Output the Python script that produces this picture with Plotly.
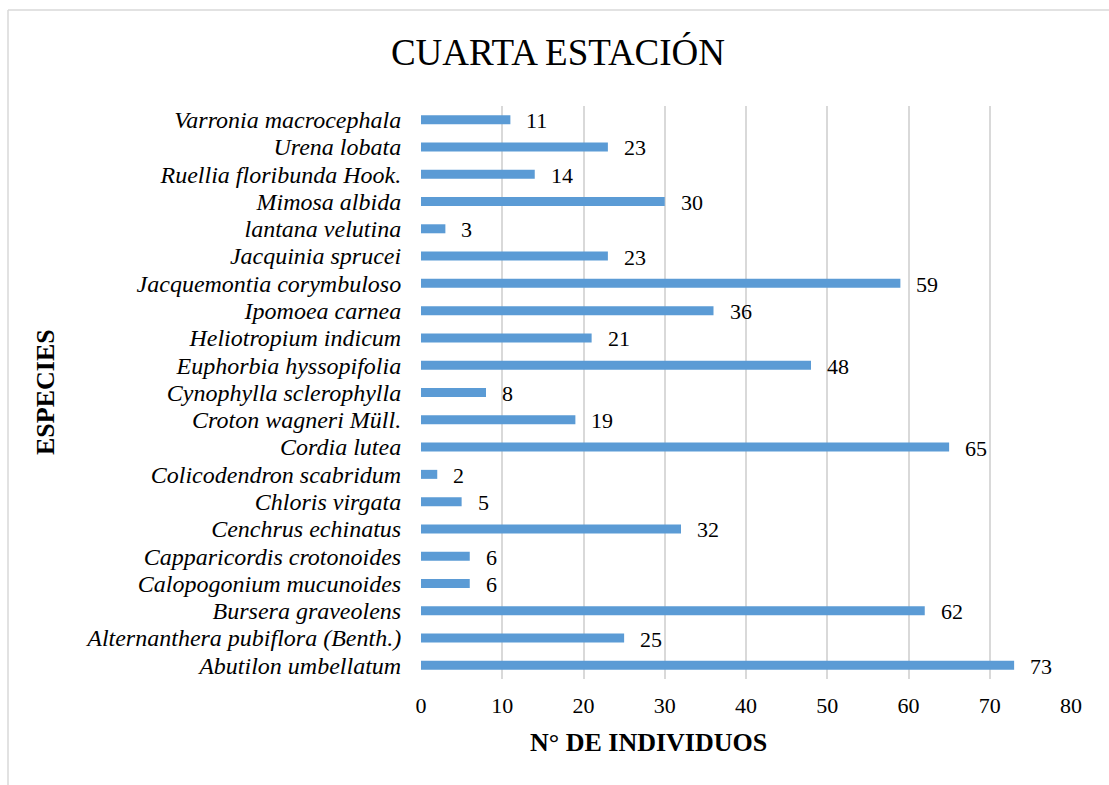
import plotly.graph_objects as go

species = [
    "Abutilon umbellatum",
    "Alternanthera pubiflora (Benth.)",
    "Bursera graveolens",
    "Calopogonium mucunoides",
    "Capparicordis crotonoides",
    "Cenchrus echinatus",
    "Chloris virgata",
    "Colicodendron scabridum",
    "Cordia lutea",
    "Croton wagneri Müll.",
    "Cynophylla sclerophylla",
    "Euphorbia hyssopifolia",
    "Heliotropium indicum",
    "Ipomoea carnea",
    "Jacquemontia corymbuloso",
    "Jacquinia sprucei",
    "lantana velutina",
    "Mimosa albida",
    "Ruellia floribunda Hook.",
    "Urena lobata",
    "Varronia macrocephala",
]
counts = [73, 25, 62, 6, 6, 32, 5, 2, 65, 19, 8, 48, 21, 36, 59, 23, 3, 30, 14, 23, 11]
x_ticks = [0, 10, 20, 30, 40, 50, 60, 70, 80]

W, H = 1109, 785
L, R, T, B = 421, 1071, 106, 679
pw, ph = R - L, B - T

serif = "Liberation Serif, Times New Roman, serif"

fig = go.Figure(go.Bar(
    y=species, x=counts, orientation="h",
    marker=dict(color="#5B9BD5", line=dict(width=0)),
    width=0.33,
))

for s, c in zip(species, counts):
    fig.add_annotation(x=c, y=s, xref="x", yref="y", text=str(c),
                       showarrow=False, xanchor="left", yanchor="middle",
                       xshift=14, yshift=-1,
                       font=dict(family=serif, size=22, color="#000000"))

fig.update_layout(
    width=W, height=H,
    margin=dict(l=L, r=W - R, t=T, b=H - B, autoexpand=False),
    paper_bgcolor="white", plot_bgcolor="white",
    showlegend=False,
    title=dict(text="CUARTA ESTACIÓN", x=558 / W, xanchor="center",
               y=1 - 52 / H, yanchor="middle",
               font=dict(family=serif, size=37, color="#000000")),
    xaxis=dict(range=[0, 80], tickmode="array", tickvals=x_ticks, showgrid=True,
               gridcolor="#D9D9D9", gridwidth=1.5, zeroline=False,
               showline=False, ticks="outside", ticklen=7, tickcolor="rgba(0,0,0,0)",
               tickfont=dict(family=serif, size=22, color="#000000")),
    yaxis=dict(categoryorder="array", categoryarray=species,
               tickmode="array", tickvals=species, ticktext=species,
               showgrid=False, zeroline=False, showline=False,
               ticks="outside", ticklen=14, tickcolor="rgba(0,0,0,0)",
               range=[-0.5, len(species) - 0.5],
               tickfont=dict(family=serif, size=24, color="#000000",
                             style="italic")),
    bargap=0.67,
    font=dict(family=serif),
)

# Axis titles
fig.add_annotation(text="<b>ESPECIES</b>", xref="paper", yref="paper",
                   x=(45 - L) / pw, y=(B - 392) / ph, textangle=-90,
                   showarrow=False, xanchor="center", yanchor="middle",
                   font=dict(family=serif, size=26, color="#000000"))
fig.add_annotation(text="<b>N° DE INDIVIDUOS</b>", xref="paper", yref="paper",
                   x=(648 - L) / pw, y=(B - 742) / ph,
                   showarrow=False, xanchor="center", yanchor="middle",
                   font=dict(family=serif, size=26, color="#000000"))

# Chart frame (top and left lines)
fig.add_shape(type="line", xref="paper", yref="paper",
              x0=(8 - L) / pw, x1=(W - L) / pw, y0=(B - 10) / ph, y1=(B - 10) / ph,
              line=dict(color="#D9D9D9", width=1.5))
fig.add_shape(type="line", xref="paper", yref="paper",
              x0=(8 - L) / pw, x1=(8 - L) / pw, y0=(B - 10) / ph, y1=(B - 785) / ph,
              line=dict(color="#D9D9D9", width=1.5))

fig.write_html("out.html", config={"displayModeBar": False},
               post_script="document.body.style.margin='0';")
